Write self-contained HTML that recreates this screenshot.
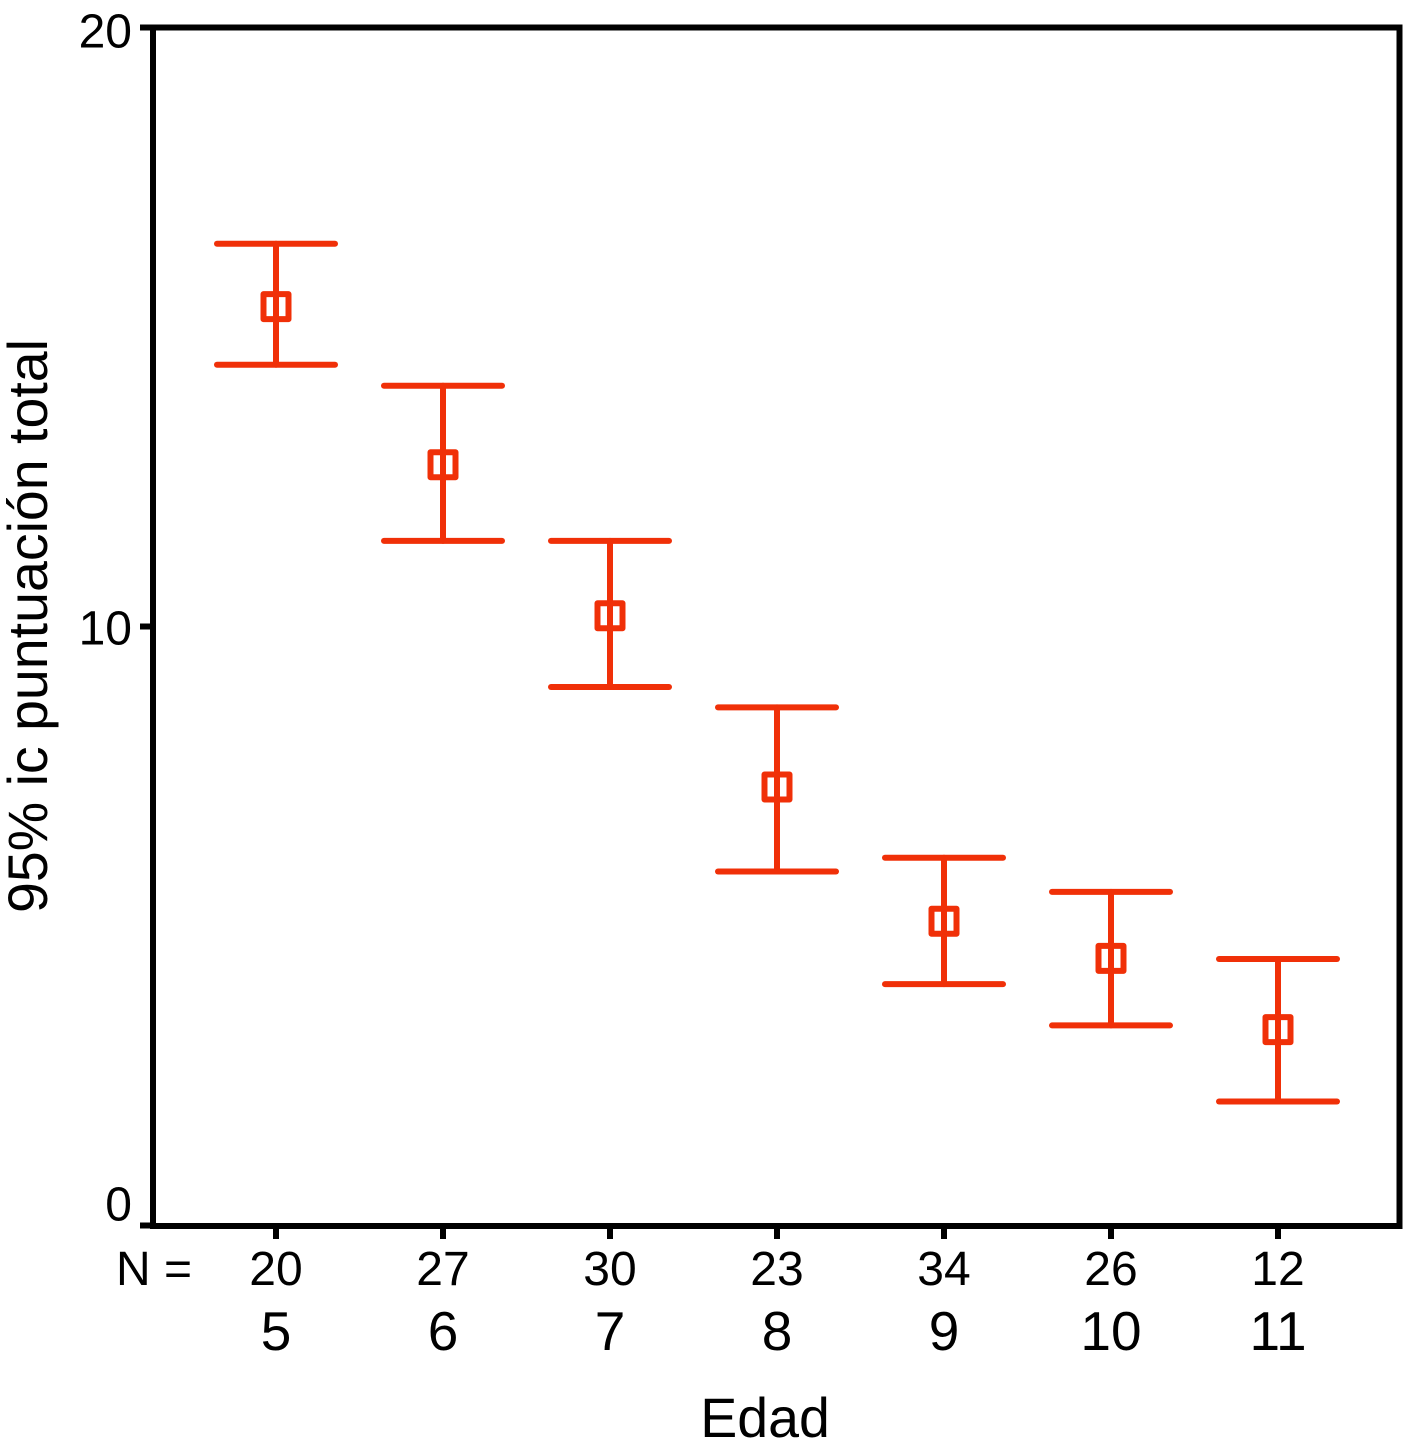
<!DOCTYPE html>
<html lang="es">
<head>
<meta charset="utf-8">
<title>95% ic puntuación total por Edad</title>
<style>
html,body{margin:0;padding:0;background:#fff;}
svg{display:block;font-family:"Liberation Sans",Arial,sans-serif;fill:#000;}
</style>
</head>
<body>
<svg id="chart" xmlns="http://www.w3.org/2000/svg" width="1403" height="1451" viewBox="0 0 1403 1451">
  <rect x="0" y="0" width="1403" height="1451" fill="#fff"/>
  <rect x="153" y="27.5" width="1246.5" height="1198.5" fill="none" stroke="#000" stroke-width="6"/>
  <g id="y-axis"></g>
  <g id="x-axis"></g>
  <g id="series"></g>
  <text x="116" y="1285" font-size="48">N =</text>
  <text x="765" y="1437" font-size="55.5" text-anchor="middle">Edad</text>
  <text transform="translate(47 626) rotate(-90)" font-size="55.5" text-anchor="middle">95% ic puntuación total</text>
</svg>
<script>
const categories = ['5', '6', '7', '8', '9', '10', '11'];
const counts = ['20', '27', '30', '23', '34', '26', '12'];
const means = [15.34, 12.70, 10.18, 7.32, 5.08, 4.46, 3.27];
const uppers = [16.39, 14.02, 11.43, 8.65, 6.14, 5.57, 4.45];
const lowers = [14.37, 11.43, 8.99, 5.91, 4.03, 3.34, 2.07];
const yTicks = [0, 10, 20];

const NS = 'http://www.w3.org/2000/svg';
const RED = '#f03008';
const xFirst = 276, xStep = 167;
const yZero = 1225.5, yTop = 27.5, yMax = 20;
function xScale(i) { return xFirst + i * xStep; }
function yScale(v) { return yZero - (v / yMax) * (yZero - yTop); }

function make(tag, attrs, parent, text) {
  const el = document.createElementNS(NS, tag);
  for (const k in attrs) el.setAttribute(k, attrs[k]);
  if (text !== undefined) el.textContent = text;
  parent.appendChild(el);
  return el;
}

const yAxis = document.getElementById('y-axis');
yTicks.forEach(function (t) {
  const y = yScale(t);
  const tick = make('line', { x1: 140, x2: 153, y1: y, y2: y, stroke: '#000', 'stroke-width': 6 }, yAxis);
  
  
  const label = make('text', { x: 132, y: y + (t === 20 ? 20 : t === 10 ? 18 : -5), 'font-size': 48, 'text-anchor': 'end' }, yAxis, String(t));
  
  
});

const xAxis = document.getElementById('x-axis');
categories.forEach(function (c, i) {
  const x = xScale(i);
  const tick = make('line', { x1: x, x2: x, y1: 1226, y2: 1239, stroke: '#000', 'stroke-width': 6 }, xAxis);
  
  
  const count = make('text', { x: x, y: 1285, 'font-size': 48, 'text-anchor': 'middle' }, xAxis, counts[i]);
  
  
  const label = make('text', { x: x, y: 1350, 'font-size': 55, 'text-anchor': 'middle' }, xAxis, c);
  
  
});

const series = document.getElementById('series');
const capHalf = 59, box = 12.5;
categories.forEach(function (c, i) {
  const x = xScale(i);
  const g = make('g', { fill: 'none', stroke: RED, 'stroke-width': 6, 'stroke-linecap': 'round', 'stroke-linejoin': 'round' }, series);
  
  
  const stem = make('line', { x1: x, x2: x, y1: yScale(uppers[i]), y2: yScale(lowers[i]) }, g);
  
  
  const top = make('line', { x1: x - capHalf, x2: x + capHalf, y1: yScale(uppers[i]), y2: yScale(uppers[i]) }, g);
  
  
  const bottom = make('line', { x1: x - capHalf, x2: x + capHalf, y1: yScale(lowers[i]), y2: yScale(lowers[i]) }, g);
  
  
  const mean = make('rect', { x: x - box, y: yScale(means[i]) - box, width: box * 2, height: box * 2 }, g);
  
  
});
</script>
</body>
</html>
